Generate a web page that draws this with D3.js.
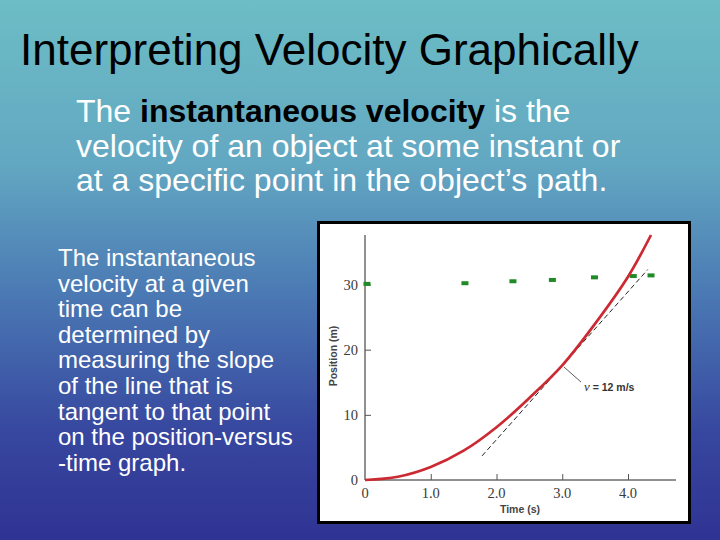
<!DOCTYPE html>
<html>
<head>
<meta charset="utf-8">
<script src="https://cdn.jsdelivr.net/npm/d3@7"></script>
<style>
  html, body { margin: 0; padding: 0; }
  body { width: 720px; height: 540px; overflow: hidden; }
</style>
</head>
<body>
<div id="chart"></div>
<script>
// Curve position-versus-time
const tempos = [0, 0.5, 1, 1.5, 2, 2.5, 3, 3.5, 4, 4.35];
const posicoes = [0, 0.5, 2.0, 4.5, 8.1, 12.6, 17.6, 24.0, 31.2, 37.6];

// Tangent line at t = 3 s (end points)
const tangenteT = [1.78, 4.3];
const tangenteX = [3.7, 32.3];

// Small green marks near 30 m
const marcasT = [0.03, 1.52, 2.25, 2.85, 3.49, 4.08, 4.35];
const marcasX = [30.1, 30.2, 30.5, 30.7, 31.1, 31.3, 31.4];

// Ticks
const ticksX = [0, 1, 2, 3, 4];
const rotulosX = ["0", "1.0", "2.0", "3.0", "4.0"];
const ticksY = [0, 10, 20, 30];

const textoTopo = [
  [{ t: "The ", b: false }, { t: "instantaneous velocity", b: true }, { t: " is the", b: false }],
  [{ t: "velocity of an object at some instant or", b: false }],
  [{ t: "at a specific point in the object\u2019s path.", b: false }]
];
const textoLado = [
  "The instantaneous",
  "velocity at a given",
  "time can be",
  "determined by",
  "measuring the slope",
  "of the line that is",
  "tangent to that point",
  "on the position-versus",
  "-time graph."
];

const W = 720, H = 540;
const svg = d3.select("#chart").append("svg")
  .attr("width", W).attr("height", H);

// fundo em gradiente
const grad = svg.append("defs").append("linearGradient")
  .attr("id", "fundo").attr("x1", 0).attr("y1", 0).attr("x2", 0).attr("y2", 1);
[[0, "#6cbdc5"], [0.3, "#63a8c2"], [0.55, "#4a78b3"], [0.8, "#37479f"], [1, "#2f3393"]]
  .forEach(([o, c]) => grad.append("stop").attr("offset", o).attr("stop-color", c));
svg.append("rect").attr("width", W).attr("height", H).attr("fill", "url(#fundo)");

const sans = "'Liberation Sans', Arial, sans-serif";
const serif = "'Liberation Serif', 'Times New Roman', serif";

// titulo
svg.append("text")
  .attr("x", 20).attr("y", 65)
  .style("font-family", sans).style("font-size", "44px")
  .attr("fill", "#000")
  .text("Interpreting Velocity Graphically");

// paragrafo de cima
textoTopo.forEach((linha, i) => {
  const t = svg.append("text")
    .attr("x", 76).attr("y", 122 + i * 34.5)
    .style("font-family", sans).style("font-size", "32px");
  linha.forEach(p => t.append("tspan")
    .attr("fill", p.b ? "#000" : "#fff")
    .style("font-weight", p.b ? "bold" : "normal")
    .text(p.t));
});

// paragrafo do lado
svg.append("g").selectAll("text").data(textoLado).join("text")
  .attr("x", 58).attr("y", (d, i) => 266 + i * 25.6)
  .style("font-family", sans).style("font-size", "24px")
  .attr("fill", "#fff")
  .text(d => d);

// painel branco
svg.append("rect")
  .attr("x", 318.5).attr("y", 222.5).attr("width", 371).attr("height", 300)
  .attr("fill", "#fff").attr("stroke", "#000").attr("stroke-width", 3);

const x = d3.scaleLinear().domain([0, 4.73]).range([365, 676]);
const y = d3.scaleLinear().domain([0, 37.6]).range([480, 235]);

// eixos
svg.append("g")
  .attr("transform", "translate(0,480)")
  .call(d3.axisBottom(x).tickValues(ticksX.slice(1)).tickSize(-6).tickFormat(""))
  .call(g => g.select(".domain").attr("d", `M${x(0)},0H676`).attr("stroke", "#222"))
  .call(g => g.selectAll(".tick line").attr("stroke", "#555"));

svg.append("g")
  .attr("transform", "translate(365,0)")
  .call(d3.axisLeft(y).tickValues(ticksY.slice(1)).tickSize(-6).tickFormat(""))
  .call(g => g.select(".domain").attr("d", `M0,${y(0)}V235`).attr("stroke", "#222"))
  .call(g => g.selectAll(".tick line").attr("stroke", "#555"));

// rotulos dos ticks
svg.append("g").selectAll("text").data(ticksX).join("text")
  .attr("x", d => x(d)).attr("y", 498)
  .attr("text-anchor", "middle")
  .style("font-family", serif).style("font-size", "14.5px")
  .attr("fill", "#3a3a3a")
  .text((d, i) => rotulosX[i]);

svg.append("g").selectAll("text").data(ticksY).join("text")
  .attr("x", 358).attr("y", d => y(d) + 5)
  .attr("text-anchor", "end")
  .style("font-family", serif).style("font-size", "14.5px")
  .attr("fill", "#3a3a3a")
  .text(d => d);

// titulos dos eixos
svg.append("text")
  .attr("x", 520).attr("y", 513)
  .attr("text-anchor", "middle")
  .style("font-family", sans).style("font-size", "10.5px").style("font-weight", "bold")
  .attr("fill", "#444")
  .text("Time (s)");

svg.append("text")
  .attr("transform", "translate(337,356) rotate(-90)")
  .attr("text-anchor", "middle")
  .style("font-family", sans).style("font-size", "10.5px").style("font-weight", "bold")
  .attr("fill", "#444")
  .text("Position (m)");

// marcas verdes
svg.append("g").selectAll("rect").data(marcasT).join("rect")
  .attr("x", d => x(d) - 3.5).attr("y", (d, i) => y(marcasX[i]) - 2)
  .attr("width", 7).attr("height", 4)
  .attr("fill", "#1f8a26");

// tangente tracejada
svg.append("line")
  .attr("x1", x(tangenteT[0])).attr("y1", y(tangenteX[0]))
  .attr("x2", x(tangenteT[1])).attr("y2", y(tangenteX[1]))
  .attr("stroke", "#222").attr("stroke-width", 1)
  .attr("stroke-dasharray", "5,3");

// curva
const pontos = tempos.map((t, i) => [t, posicoes[i]]);
const linha = d3.line()
  .x(d => x(d[0])).y(d => y(d[1]))
  .curve(d3.curveCatmullRom);

svg.append("path")
  .datum(pontos)
  .attr("fill", "none")
  .attr("stroke", "#cc2a33")
  .attr("stroke-width", 2.7)
  .attr("d", linha);

// anotacao
svg.append("line")
  .attr("x1", 564).attr("y1", 367).attr("x2", 581).attr("y2", 382)
  .attr("stroke", "#333").attr("stroke-width", 0.8);

const anot = svg.append("text")
  .attr("x", 584).attr("y", 391)
  .style("font-family", sans).style("font-size", "10.5px")
  .attr("fill", "#333");
anot.append("tspan").style("font-family", serif).style("font-style", "italic").style("font-size", "13px").text("\u03bd");
anot.append("tspan").style("font-weight", "bold").text(" = 12 m/s");
</script>
</body>
</html>
